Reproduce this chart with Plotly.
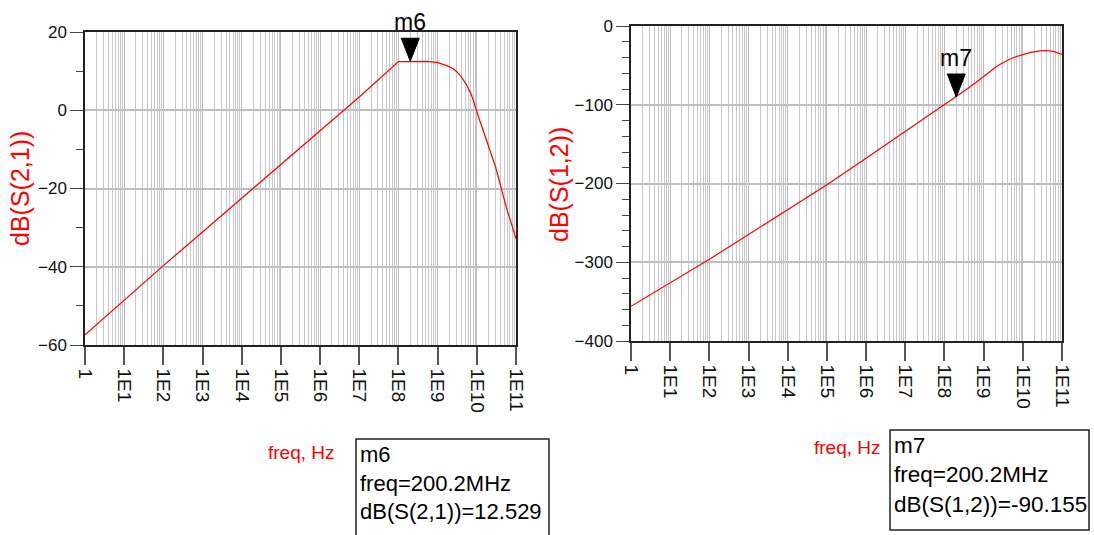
import math
import plotly.graph_objects as go

# ---------------- data ----------------
freq_s21 = [1, 1e1, 1e2, 1e3, 1e4, 1e5, 1e6, 1e7, 1e8, 2.002e8, 5.37e8, 9.55e8,
            1.698e9, 2.512e9, 3.09e9, 3.981e9, 5.495e9, 7.079e9, 8.128e9,
            1.096e10, 1.66e10, 3.02e10, 5.623e10, 1e11]
db_s21 = [-57.4, -48.5, -39.7, -31.1, -22.5, -13.9, -5.3, 3.4, 12.45, 12.529, 12.5, 12.25,
          11.4, 10.6, 9.86, 8.6, 6.45, 4.2, 2.6,
          -1.6, -6.8, -14.5, -24.7, -32.8]

freq_s12 = [1, 1e1, 1e2, 1e3, 1e4, 1e5, 1e6, 1e7, 1e8, 2.002e8, 3.548e8, 6.607e8,
            1e9, 1.413e9, 1.778e9, 2.138e9, 2.661e9, 3.162e9, 4.467e9, 6.31e9, 1e10,
            1.585e10, 2.754e10, 3.981e10, 6.026e10, 7.943e10, 1e11]
db_s12 = [-356.0, -326.3, -296.2, -264.7, -233.2, -201.6, -167.8, -133.9, -100.0, -90.155, -81.0, -71.0,
          -63.8, -58.0, -54.3, -51.5, -48.5, -46.3, -42.5, -39.4, -36.0,
          -33.6, -31.6, -31.1, -32.3, -33.9, -36.0]

x_tick_vals = [10 ** k for k in range(0, 12)]
x_tick_text = ["1"] + ["1E%d" % k for k in range(1, 12)]

m6 = {"name": "m6", "freq": 200.2e6, "val": 12.529, "freq_txt": "200.2MHz", "label": "dB(S(2,1))"}
m7 = {"name": "m7", "freq": 200.2e6, "val": -90.155, "freq_txt": "200.2MHz", "label": "dB(S(1,2))"}

# ---------------- layout helpers ----------------
W, H = 1094, 535
def px(x):
    return x / W
def py(y):
    return 1 - y / H

FONT = "Arial, Liberation Sans, sans-serif"
RED = "#ff0000"

fig = go.Figure()
fig.add_trace(go.Scatter(x=freq_s21, y=db_s21, mode="lines",
                         line=dict(color=RED, width=1.2), xaxis="x", yaxis="y",
                         showlegend=False))
fig.add_trace(go.Scatter(x=freq_s12, y=db_s12, mode="lines",
                         line=dict(color=RED, width=1.2), xaxis="x2", yaxis="y2",
                         showlegend=False))

minor_vals = [m * 10 ** k for k in range(0, 11) for m in range(2, 10)]

def xaxis_cfg(domain, anchor):
    return dict(type="log", range=[0, 11], domain=domain, anchor=anchor,
                showline=True, linecolor="#222", linewidth=1.5, mirror=True,
                ticks="outside", ticklen=18, tickcolor="#555", tickwidth=1.5,
                tickmode="array", tickvals=x_tick_vals, ticktext=x_tick_text,
                tickangle=90, tickfont=dict(family=FONT, size=19, color="#111"),
                showgrid=True, gridcolor="#bdbdbd", gridwidth=1,
                minor=dict(tickmode="array", tickvals=minor_vals, showgrid=True,
                           gridcolor="#c9c9c9", gridwidth=1, ticks=""),
                automargin=False, zeroline=False, fixedrange=True)

def yaxis_cfg(domain, anchor, rng, dt, mdt):
    return dict(range=rng, domain=domain, anchor=anchor, dtick=dt, tick0=0,
                showline=True, linecolor="#222", linewidth=1.5, mirror=True,
                ticks="outside", ticklen=13, tickcolor="#444", tickwidth=1.2,
                tickfont=dict(family=FONT, size=17, color="#111"),
                showgrid=True, gridcolor="#bfbfbf", gridwidth=2,
                minor=dict(dtick=mdt, tick0=0, ticks="outside", ticklen=7,
                           tickcolor="#444", tickwidth=1.2, showgrid=False),
                automargin=False, zeroline=False, fixedrange=True)

fig.update_layout(
    width=W, height=H, margin=dict(l=0, r=0, t=0, b=0),
    paper_bgcolor="white", plot_bgcolor="white",
    xaxis=xaxis_cfg([px(85), px(516)], "y"),
    yaxis=yaxis_cfg([py(345), py(32)], "x", [-60, 20], 20, 10),
    xaxis2=xaxis_cfg([px(631), px(1062)], "y2"),
    yaxis2=yaxis_cfg([py(341), py(26)], "x2", [-400, 0], 100, 20),
    showlegend=False,
)

annotations = []
shapes = []

# y axis titles
annotations.append(dict(text="dB(S(2,1))", x=px(20), y=py(189), xref="paper", yref="paper",
                        textangle=-90, showarrow=False, xanchor="center", yanchor="middle",
                        font=dict(family=FONT, size=25, color=RED)))
annotations.append(dict(text="dB(S(1,2))", x=px(559), y=py(185), xref="paper", yref="paper",
                        textangle=-90, showarrow=False, xanchor="center", yanchor="middle",
                        font=dict(family=FONT, size=25, color=RED)))

# x axis titles
annotations.append(dict(text="freq, Hz", x=px(266), y=py(452), xref="paper", yref="paper",
                        showarrow=False, xanchor="left", yanchor="middle",
                        font=dict(family=FONT, size=19, color=RED)))
annotations.append(dict(text="freq, Hz", x=px(812), y=py(447), xref="paper", yref="paper",
                        showarrow=False, xanchor="left", yanchor="middle",
                        font=dict(family=FONT, size=19, color=RED)))

# markers (triangle + label)
for m, xr, yr in [(m6, "x", "y"), (m7, "x2", "y2")]:
    shapes.append(dict(type="path", xref=xr, yref=yr, xsizemode="pixel", ysizemode="pixel",
                       xanchor=m["freq"], yanchor=m["val"],
                       path="M -9,23 L 9,23 L 0,0 Z",
                       fillcolor="black", line=dict(color="black", width=1)))
    annotations.append(dict(text=m["name"], x=math.log10(m["freq"]), y=m["val"], xref=xr, yref=yr,
                            showarrow=False, xanchor="center", yanchor="bottom", yshift=24,
                            font=dict(family=FONT, size=23, color="black")))

# marker readout boxes
boxes = [
    (m6, (356, 439, 549, 545), 358, 22),
    (m7, (890, 430, 1089, 530), 892, 22.5),
]
for m, (x0, y0, x1, y1), tx, fs in boxes:
    shapes.append(dict(type="rect", xref="paper", yref="paper",
                       x0=px(x0), x1=px(x1), y0=py(y0), y1=py(y1),
                       line=dict(color="#222", width=1.5), fillcolor="rgba(0,0,0,0)"))
    txt = "%s<br>freq=%s<br>%s=%s" % (m["name"], m["freq_txt"], m["label"], ("%.3f" % m["val"]))
    annotations.append(dict(text=txt, x=px(tx), y=py(y0 + 1), xref="paper", yref="paper",
                            showarrow=False, xanchor="left", yanchor="top", align="left",
                            font=dict(family=FONT, size=fs, color="black")))

fig.update_layout(annotations=annotations, shapes=shapes)
fig.write_html("out.html")
